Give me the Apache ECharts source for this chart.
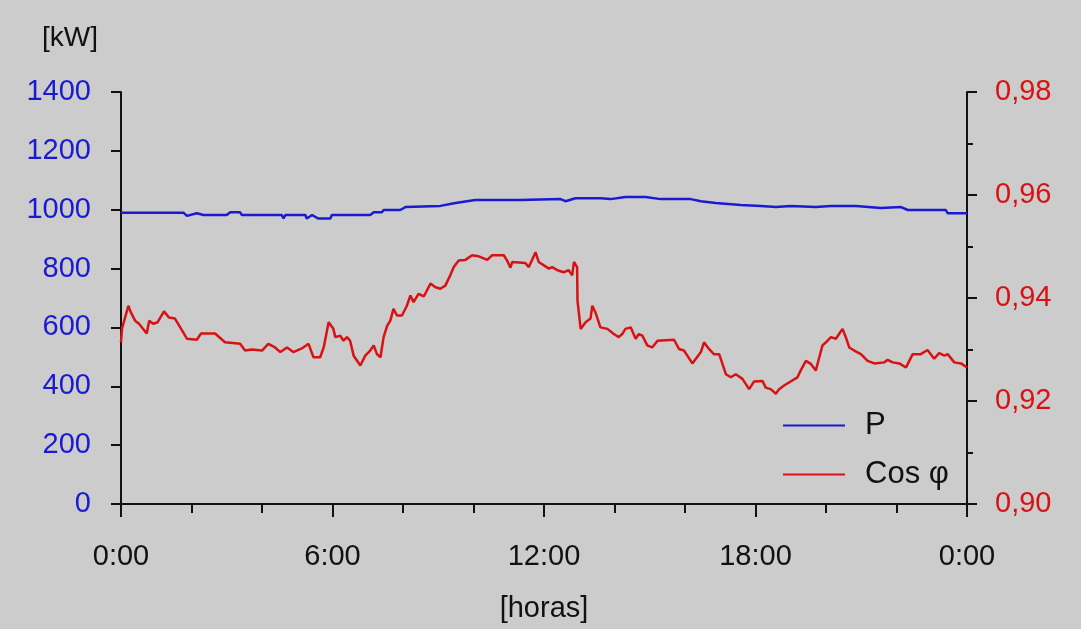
<!DOCTYPE html>
<html>
<head>
<meta charset="utf-8">
<title>P y Cos φ</title>
<script src="https://cdn.jsdelivr.net/npm/echarts@6/dist/echarts.min.js"></script>
<style>
  html, body { margin: 0; padding: 0; background: #ffffff; }
  #main { width: 1081px; height: 629px; background: #cccccc; }
</style>
</head>
<body>
<div id="main"></div>
<script>
// etiquetas del eje de horas (cada 6 h)
const horaLabels = ['0:00', '6:00', '12:00', '18:00', '0:00'];

// potencia activa P [kW]
const pHoras = [0, 1.77, 1.87, 2.15, 2.34, 3.00, 3.10, 3.38, 3.43, 4.56, 4.61, 4.66, 5.23, 5.27, 5.42, 5.60,
  5.94, 5.98, 7.07, 7.17, 7.40, 7.45, 7.92, 8.07, 9.06, 9.49, 10.05, 11.33, 12.47, 12.61, 12.89, 13.60,
  13.89, 14.31, 14.88, 15.31, 16.16, 16.45, 16.87, 17.58, 18.15, 18.58, 19.00, 19.71, 20.14, 20.85,
  21.56, 22.13, 22.32, 23.40, 23.45, 24];
const pKW = [990, 990, 979, 988, 982, 982, 991, 991, 982, 982, 970, 982, 982, 970, 982, 970,
  970, 982, 982, 991, 991, 999, 999, 1009, 1013, 1023, 1033, 1033, 1036, 1029, 1039, 1039,
  1036, 1043, 1043, 1036, 1036, 1029, 1023, 1016, 1013, 1009, 1013, 1009, 1013, 1013,
  1006, 1009, 999, 999, 988, 988];

// factor de potencia cos φ
const cosHoras = [0, 0.03, 0.21, 0.28, 0.40, 0.51, 0.73, 0.80, 0.91, 1.04, 1.22, 1.36, 1.53, 1.68, 1.87, 2.15,
  2.27, 2.67, 2.95, 3.38, 3.52, 3.71, 4.00, 4.18, 4.37, 4.52, 4.71, 4.89, 5.13, 5.32, 5.46, 5.65,
  5.75, 5.89, 6.02, 6.08, 6.22, 6.31, 6.41, 6.50, 6.60, 6.79, 6.93, 7.07, 7.17, 7.26, 7.36, 7.45,
  7.55, 7.64, 7.73, 7.83, 7.97, 8.11, 8.21, 8.30, 8.44, 8.59, 8.78, 8.92, 9.06, 9.20, 9.34, 9.44,
  9.58, 9.77, 9.96, 10.15, 10.39, 10.53, 10.86, 10.95, 11.05, 11.10, 11.47, 11.57, 11.76, 11.85,
  12.14, 12.23, 12.38, 12.56, 12.70, 12.80, 12.85, 12.94, 12.95, 13.04, 13.18, 13.32, 13.37, 13.46,
  13.60, 13.80, 13.98, 14.12, 14.22, 14.31, 14.46, 14.60, 14.69, 14.79, 14.93, 15.07, 15.22, 15.69,
  15.83, 15.97, 16.21, 16.45, 16.54, 16.68, 16.82, 16.97, 17.16, 17.30, 17.44, 17.63, 17.82, 17.96,
  18.20, 18.29, 18.43, 18.58, 18.67, 18.81, 18.95, 19.19, 19.28, 19.43, 19.57, 19.71, 19.81, 19.90,
  20.00, 20.14, 20.28, 20.37, 20.47, 20.56, 20.66, 20.80, 20.99, 21.18, 21.37, 21.65, 21.75, 21.89,
  22.08, 22.27, 22.32, 22.46, 22.69, 22.88, 23.07, 23.21, 23.36, 23.45, 23.64, 23.83, 24];
const cosPhi = [0.9314, 0.9341, 0.9385, 0.9372, 0.9356, 0.9350, 0.9331, 0.9356, 0.9350, 0.9353, 0.9374, 0.9362, 0.9360, 0.9343, 0.9321, 0.9319,
  0.9331, 0.9331, 0.9314, 0.9311, 0.9298, 0.9300, 0.9298, 0.9311, 0.9304, 0.9295, 0.9304, 0.9295, 0.9302, 0.9311, 0.9285, 0.9285,
  0.9304, 0.9353, 0.9341, 0.9324, 0.9327, 0.9317, 0.9324, 0.9317, 0.9288, 0.9269, 0.9288, 0.9298, 0.9308, 0.9291, 0.9285, 0.9324,
  0.9346, 0.9356, 0.9379, 0.9366, 0.9366, 0.9385, 0.9405, 0.9392, 0.9408, 0.9403, 0.9428, 0.9421, 0.9418, 0.9424, 0.9444, 0.9460,
  0.9473, 0.9474, 0.9483, 0.9481, 0.9474, 0.9483, 0.9483, 0.9473, 0.9459, 0.9470, 0.9468, 0.9460, 0.9489, 0.9470,
  0.9457, 0.9460, 0.9454, 0.9450, 0.9454, 0.9444, 0.9470, 0.9460, 0.9395, 0.9340, 0.9353, 0.9360, 0.9385, 0.9372,
  0.9343, 0.9340, 0.9330, 0.9324, 0.9330, 0.9340, 0.9343, 0.9321, 0.9330, 0.9327, 0.9308, 0.9304, 0.9317, 0.9319,
  0.9301, 0.9298, 0.9273, 0.9295, 0.9314, 0.9301, 0.9291, 0.9291, 0.9252, 0.9246, 0.9252, 0.9243, 0.9223, 0.9238,
  0.9239, 0.9226, 0.9223, 0.9214, 0.9223, 0.9230, 0.9236, 0.9246, 0.9259, 0.9278, 0.9272, 0.9259, 0.9285, 0.9308,
  0.9314, 0.9324, 0.9321, 0.9330, 0.9340, 0.9324, 0.9304, 0.9298, 0.9291, 0.9278, 0.9273, 0.9275, 0.9280, 0.9275,
  0.9273, 0.9265, 0.9272, 0.9291, 0.9291, 0.9299, 0.9282, 0.9293, 0.9288, 0.9291, 0.9275, 0.9273, 0.9265];

const FONT = '"Liberation Sans", Arial, sans-serif';
const AZUL = '#1a1ad2';
const ROJO = '#d81212';
const NEGRO = '#111111';

const zip = (xs, ys) => xs.map((x, i) => [x, ys[i]]);

const chart = echarts.init(document.getElementById('main'), null, { renderer: 'canvas' });

chart.setOption({
  animation: false,
  backgroundColor: '#cccccc',
  textStyle: { fontFamily: FONT },
  title: {
    text: '[kW]',
    left: 37,
    top: 19,
    textStyle: { fontFamily: FONT, fontSize: 28, fontWeight: 'normal', color: NEGRO }
  },
  grid: { left: 121, right: 114, top: 92, bottom: 125, containLabel: false, outerBoundsMode: 'none' },
  legend: {
    orient: 'vertical',
    left: 783,
    top: 410,
    padding: 0,
    itemGap: 18,
    itemWidth: 62,
    itemHeight: 2,
    icon: 'rect',
    textStyle: { fontFamily: FONT, fontSize: 31, color: NEGRO, padding: [0, 0, 0, 15] },
    data: ['P', 'Cos φ']
  },
  xAxis: {
    type: 'value',
    min: 0,
    max: 24,
    interval: 6,
    name: '[horas]',
    nameLocation: 'middle',
    nameGap: 90,
    nameTextStyle: { fontFamily: FONT, fontSize: 29, color: NEGRO },
    axisLine: { lineStyle: { color: NEGRO, width: 2 } },
    axisTick: { length: 13, lineStyle: { color: NEGRO, width: 2 } },
    minorTick: { show: true, splitNumber: 3, length: 9, lineStyle: { color: NEGRO, width: 2 } },
    splitLine: { show: false },
    axisLabel: {
      margin: 38,
      fontFamily: FONT,
      fontSize: 29,
      color: NEGRO,
      formatter: v => horaLabels[Math.round(v / 6)]
    }
  },
  yAxis: [
    {
      type: 'value',
      min: 0,
      max: 1400,
      interval: 200,
      axisLine: { show: true, lineStyle: { color: NEGRO, width: 2 } },
      axisTick: { show: true, length: 10, lineStyle: { color: NEGRO, width: 2 } },
      splitLine: { show: false },
      axisLabel: { margin: 30, fontFamily: FONT, fontSize: 29, color: AZUL, formatter: v => String(v) }
    },
    {
      type: 'value',
      position: 'right',
      min: 0.9,
      max: 0.98,
      interval: 0.02,
      axisLine: { show: true, lineStyle: { color: NEGRO, width: 2 } },
      axisTick: { show: true, length: 10, lineStyle: { color: NEGRO, width: 2 } },
      minorTick: { show: true, splitNumber: 2, length: 6, lineStyle: { color: NEGRO, width: 2 } },
      splitLine: { show: false },
      axisLabel: {
        margin: 28,
        fontFamily: FONT,
        fontSize: 29,
        color: ROJO,
        formatter: v => v.toFixed(2).replace('.', ',')
      }
    }
  ],
  series: [
    {
      name: 'P',
      type: 'line',
      yAxisIndex: 0,
      showSymbol: false,
      lineStyle: { color: AZUL, width: 2.5 },
      itemStyle: { color: AZUL },
      data: zip(pHoras, pKW)
    },
    {
      name: 'Cos φ',
      type: 'line',
      yAxisIndex: 1,
      showSymbol: false,
      lineStyle: { color: ROJO, width: 2.5 },
      itemStyle: { color: ROJO },
      data: zip(cosHoras, cosPhi)
    }
  ]
});
</script>
</body>
</html>
